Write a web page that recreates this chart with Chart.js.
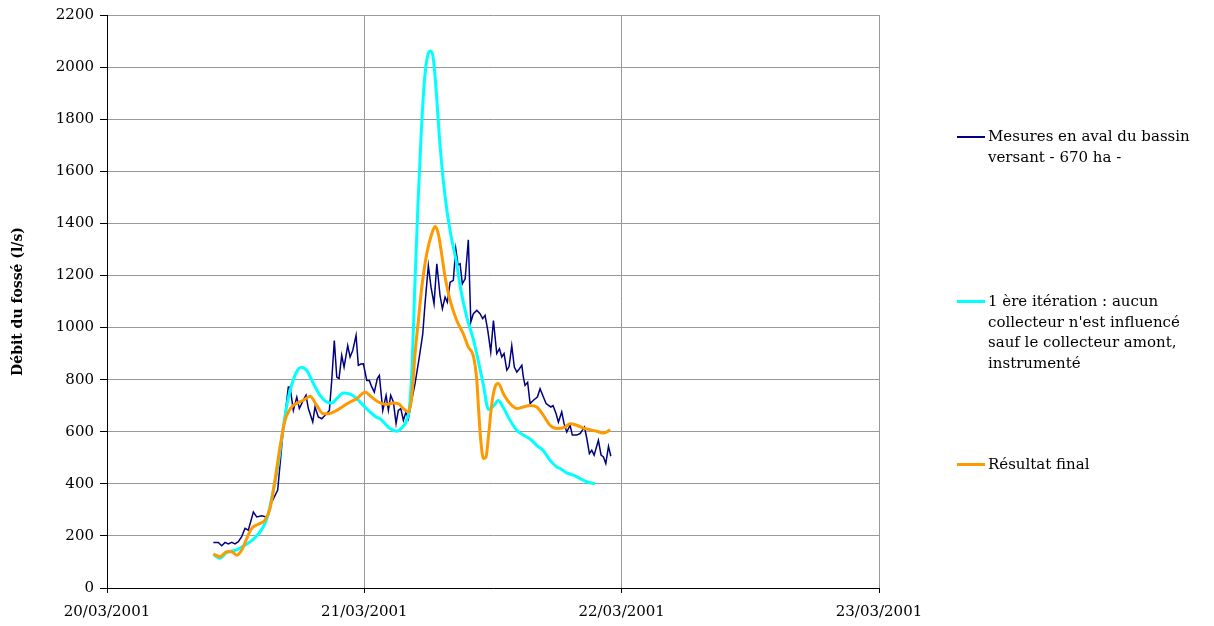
<!DOCTYPE html>
<html>
<head>
<meta charset="utf-8">
<script src="https://cdn.jsdelivr.net/npm/chart.js@4/dist/chart.umd.min.js"></script>
<style>
  body { margin: 0; background: #fff; }
  #wrap { position: relative; width: 1214px; height: 626px; }
  .leg { position: absolute; left: 957px; font: 15px "DejaVu Serif", serif; color: #000; line-height: 20.5px; white-space: nowrap; }
  .leg .swatch { position: absolute; left: 0; width: 28px; }
  .leg .txt { position: absolute; left: 31px; top: 0; }
</style>
</head>
<body>
<div id="wrap">
  <canvas id="debit" width="1214" height="626"></canvas>
  <div class="leg" style="top:126px"><div class="swatch" style="top:10px;height:1.5px;background:#000080"></div><div class="txt">Mesures en aval du bassin<br>versant - 670 ha -</div></div>
  <div class="leg" style="top:291px"><div class="swatch" style="top:9px;height:3px;background:#00ffff"></div><div class="txt">1 ère itération : aucun<br>collecteur n'est influencé<br>sauf le collecteur amont,<br>instrumenté</div></div>
  <div class="leg" style="top:454px"><div class="swatch" style="top:9px;height:3px;background:#ff9900"></div><div class="txt">Résultat final</div></div>
</div>
<script>
// hours counted from 20/03/2001 00:00
const xTickLabels = ["20/03/2001", "21/03/2001", "22/03/2001", "23/03/2001"];

const mesuresHours = [9.92, 10.38, 10.70, 11.01, 11.32, 11.63, 11.94, 12.25, 12.56, 12.87, 13.18, 13.65, 13.96, 14.43, 14.83, 15.02, 15.25, 15.92, 16.42, 16.91,
  17.07, 17.38, 17.70, 17.94, 18.31, 18.56, 18.78, 19.19, 19.40, 19.71, 20.03, 20.34, 20.74, 20.96, 21.20, 21.43, 21.64, 21.89, 22.11, 22.45,
  22.67, 22.92, 23.23, 23.44, 23.67, 23.91, 24.23, 24.47, 24.63, 24.93, 25.21, 25.40, 25.72, 26.03, 26.24, 26.46, 26.71, 26.96, 27.17, 27.40,
  27.64, 27.89, 28.11, 28.42, 28.73, 29.13, 29.45, 29.66, 29.97, 30.22, 30.50, 30.76, 31.06, 31.28, 31.53, 31.74, 32.00, 32.30, 32.53, 32.74,
  32.93, 33.14, 33.40, 33.70, 33.93, 34.17, 34.49, 34.79, 35.04, 35.26, 35.51, 35.79, 36.04, 36.35, 36.60, 36.82, 37.03, 37.29, 37.50, 37.75,
  37.99, 38.22, 38.43, 38.69, 38.83, 38.99, 39.23, 39.46, 39.77, 40.14, 40.39, 40.70, 40.95, 41.39, 41.60, 41.88, 42.10, 42.41, 42.63, 42.88,
  43.19, 43.40, 43.81, 44.12, 44.53, 44.75, 44.99, 45.21, 45.43, 45.83, 46.08, 46.30, 46.52, 46.77, 46.99];
const mesuresValues = [175, 175, 162, 175, 169, 175, 169, 178, 197, 229, 222, 292, 273, 277, 273, 280, 320, 376, 600, 772,
  772, 682, 733, 689, 721, 740, 689, 637, 695, 657, 650, 663, 682, 797, 950, 810, 804, 893, 848, 931,
  887, 912, 970, 855, 860, 861, 797, 797, 778, 752, 804, 816, 682, 740, 682, 740, 714, 631, 682, 689,
  644, 676, 650, 721, 785, 887, 976, 1091, 1238, 1155, 1091, 1245, 1123, 1072, 1117, 1097, 1174, 1181, 1302, 1240,
  1245, 1168, 1187, 1337, 1021, 1053, 1066, 1053, 1034, 1047, 990, 906, 1027, 900, 919, 887, 900, 836, 850, 931,
  848, 829, 840, 855, 810, 778, 790, 708, 721, 733, 765, 733, 708, 695, 700, 670, 637, 676, 631, 599,
  625, 587, 587, 593, 618, 574, 516, 529, 510, 567, 510, 503, 478, 544, 506];

const iterHours = [9.92, 10.5, 11.17, 12.1, 12.87, 13.65, 14.58, 15.05, 15.51, 15.98, 16.45, 16.91, 17.38, 17.84, 18.16, 18.63, 19.25, 19.87, 20.5, 20.96,
  21.43, 22.04, 22.67, 23.29, 23.91, 24.53, 25.16, 25.47, 26.4, 27.02, 27.49, 27.96, 28.2, 28.45, 28.7, 29.01, 29.32, 29.63, 29.94, 30.16,
  30.41, 30.72, 31.02, 31.35, 31.66, 32.0, 32.3, 32.62, 32.93, 33.55, 34.17, 34.64, 35.1, 35.58, 36.04, 36.5, 36.97, 37.59, 38.21, 38.84,
  39.46, 40.08, 40.7, 41.32, 41.64, 41.95, 42.26, 42.88, 43.5, 44.12, 44.75, 45.5];
const iterValues = [130, 114, 137, 146, 165, 187, 235, 286, 376, 480, 620, 730, 800, 840, 848, 835, 785, 740, 714, 710,
  727, 749, 744, 727, 701, 676, 655, 650, 612, 602, 614, 645, 690, 850, 1150, 1480, 1760, 1960, 2050, 2062,
  2040, 1900, 1720, 1570, 1462, 1372, 1308, 1245, 1160, 1040, 955, 870, 780, 685, 698, 720, 692, 644, 606, 587,
  572, 548, 527, 490, 476, 465, 459, 442, 433, 420, 408, 400];

const finalHours = [9.92, 10.54, 11.17, 11.63, 12.1, 12.57, 13.03, 13.5, 14.11, 14.74, 15.2, 15.67, 16.14, 16.6, 17.0, 17.38, 18.31, 18.94, 19.56, 20.18,
  20.64, 21.43, 22.04, 22.67, 23.29, 24.07, 24.69, 25.31, 26.09, 26.71, 27.17, 27.64, 28.11, 28.42, 28.73, 29.04, 29.36, 29.82, 30.29, 30.6,
  30.9, 31.22, 31.53, 32.0, 32.62, 33.24, 33.7, 34.17, 34.49, 34.64, 34.86, 35.1, 35.35, 35.57, 35.89, 36.19, 36.5, 36.97, 37.59, 38.21,
  38.83, 39.46, 40.08, 40.7, 41.32, 41.95, 42.72, 43.19, 43.81, 44.43, 45.06, 45.68, 46.3, 46.61, 46.92];
const finalValues = [130, 120, 139, 139, 126, 146, 190, 229, 245, 261, 305, 414, 542, 644, 682, 701, 721, 736, 701, 669,
  669, 682, 698, 714, 727, 752, 733, 714, 705, 710, 708, 689, 676, 733, 900, 1027, 1155, 1283, 1360, 1388,
  1360, 1280, 1194, 1104, 1027, 975, 925, 890, 797, 695, 567, 497, 503, 580, 708, 772, 785, 746, 708, 689,
  695, 701, 695, 663, 625, 612, 618, 631, 625, 614, 608, 602, 595, 599, 608];

const pts = (xs, ys) => xs.map((x, i) => ({ x: x, y: ys[i] }));
const serif = '"DejaVu Serif", serif';

new Chart(document.getElementById("debit"), {
  type: "line",
  data: {
    datasets: [
      {
        label: "Mesures en aval du bassin versant - 670 ha -",
        data: pts(mesuresHours, mesuresValues),
        borderColor: "#000080",
        borderWidth: 1.5,
        pointRadius: 0,
        tension: 0,
        order: 3,
      },
      {
        label: "1 ère itération : aucun collecteur n'est influencé sauf le collecteur amont, instrumenté",
        data: pts(iterHours, iterValues),
        borderColor: "#00ffff",
        borderWidth: 3,
        pointRadius: 0,
        cubicInterpolationMode: "monotone",
        order: 2,
      },
      {
        label: "Résultat final",
        data: pts(finalHours, finalValues),
        borderColor: "#ff9900",
        borderWidth: 3,
        pointRadius: 0,
        cubicInterpolationMode: "monotone",
        order: 1,
      },
    ],
  },
  options: {
    responsive: false,
    animation: false,
    layout: { padding: { left: 0, top: 14, right: 335, bottom: 0 } },
    plugins: { legend: { display: false }, tooltip: { enabled: false } },
    scales: {
      x: {
        type: "linear",
        min: 0,
        max: 72,
        afterBuildTicks: (s) => { s.ticks = [0, 24, 48, 72].map((v) => ({ value: v })); },
        afterFit: (s) => { s.height = 38; },
        ticks: {
          callback: (v) => xTickLabels[v / 24],
          maxRotation: 0,
          color: "#000",
          padding: 10,
          font: { family: serif, size: 15 },
        },
        grid: { color: "#999", lineWidth: 1, tickColor: "#000", tickLength: 5 },
        border: { color: "#000", width: 1 },
      },
      y: {
        min: 0,
        max: 2200,
        afterFit: (s) => { s.width = 107; },
        ticks: {
          stepSize: 200,
          callback: (v) => String(v),
          color: "#000",
          padding: 6,
          font: { family: serif, size: 15 },
        },
        grid: { color: "#999", lineWidth: 1, tickColor: "#000", tickLength: 7 },
        border: { color: "#000", width: 1 },
        title: {
          display: true,
          text: "Débit du fossé (l/s)",
          color: "#000",
          padding: { top: 10, bottom: 0 },
          font: { family: serif, size: 14, weight: "bold" },
        },
      },
    },
  },
});
</script>
</body>
</html>
